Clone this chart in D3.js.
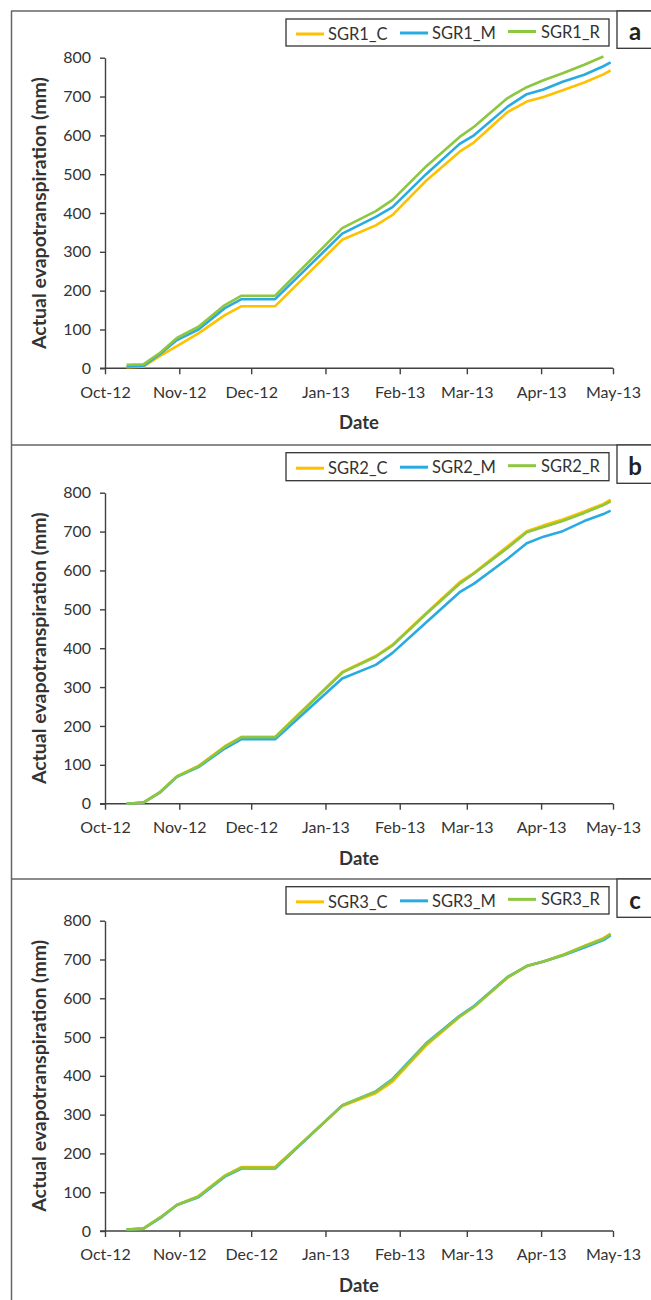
<!DOCTYPE html>
<html>
<head>
<meta charset="utf-8">
<script src="https://cdn.jsdelivr.net/npm/d3@7"></script>
<style>
  html, body { margin: 0; padding: 0; background: #fff; }
  svg { display: block; }
  text { font-family: Lato, "Open Sans", sans-serif; }
</style>
</head>
<body>
<svg id="chart" width="651" height="1300"></svg>
<script>
// ---------- DATA ----------
const dates = ["2012-10-10","2012-10-17","2012-10-24","2012-10-31","2012-11-09","2012-11-20","2012-11-27",
  "2012-12-11","2013-01-08","2013-01-22","2013-01-29","2013-02-12","2013-02-26","2013-03-04",
  "2013-03-18","2013-03-26","2013-04-02","2013-04-10","2013-04-19","2013-04-27","2013-04-30"];

const sgr1C = [3,4,32,57,90,137,160,160,331,368,395,483,558,582,660,687,699,716,736,757,767];
const sgr1M = [5,6,37,73,100,155,178,178,347,390,415,500,578,600,674,706,718,738,756,778,788];
const sgr1R = [9,10,40,78,107,163,187,187,361,405,434,520,596,622,696,724,742,760,782,803,null];

const sgr2C = [0,3,30,70,97,148,172,172,339,380,409,490,570,594,662,701,716,731,752,771,782];
const sgr2M = [0,3,29,69,94,142,166,166,322,357,388,466,544,566,630,670,687,701,727,745,754];
const sgr2R = [0,3,30,70,96,146,171,171,337,378,407,488,566,592,658,698,712,727,748,768,778];

const sgr3C = [4,6,35,67,90,143,165,165,322,355,385,478,552,578,653,683,695,712,735,755,767];
const sgr3M = [4,6,33,67,87,140,161,161,324,360,392,484,555,580,655,683,695,710,731,750,762];
const sgr3R = [4,6,35,67,89,142,163,163,324,359,390,482,553,578,654,683,695,711,734,753,765];

const panelLetters = ["a","b","c"];
const seriesNames = [["SGR1_C","SGR1_M","SGR1_R"],["SGR2_C","SGR2_M","SGR2_R"],["SGR3_C","SGR3_M","SGR3_R"]];
const panelSeries = [[sgr1C,sgr1M,sgr1R],[sgr2C,sgr2M,sgr2R],[sgr3C,sgr3M,sgr3R]];
const yTicks = [0,100,200,300,400,500,600,700,800];
const xTickDates = ["2012-10-01","2012-11-01","2012-12-01","2013-01-01","2013-02-01","2013-03-01","2013-04-01","2013-05-01"];
const xTickLabels = ["Oct-12","Nov-12","Dec-12","Jan-13","Feb-13","Mar-13","Apr-13","May-13"];
const yTitle = "Actual evapotranspiration (mm)";
const xTitle = "Date";

// ---------- LAYOUT ----------
const colors = ["#FFC000", "#29ABE2", "#8DC63F"];
const panels = [
  { top: 11,  y0: 368.3,  y800: 57.7,  legTop: 19,    legBot: 46,    boxBot: 48.3 },
  { top: 445, y0: 803.7,  y800: 492.7, legTop: 452.7, legBot: 480.7, boxBot: 483.3 },
  { top: 879, y0: 1231,   y800: 920.7, legTop: 886.7, legBot: 914,   boxBot: 917.3 }
];
const parse = d3.utcParse("%Y-%m-%d");
const dateObjs = dates.map(parse);
const svg = d3.select("#chart");

const x = d3.scaleUtc().domain([parse("2012-10-01"), parse("2013-05-01")]).range([105, 613]);

// frame
const frame = svg.append("g").attr("stroke", "#666").attr("stroke-width", 1.5).attr("fill", "none");
frame.append("line").attr("x1", 11.5).attr("x2", 11.5).attr("y1", 11).attr("y2", 1300);
panels.forEach(p => {
  frame.append("line").attr("x1", 11).attr("x2", 651).attr("y1", p.top).attr("y2", p.top);
});

panels.forEach((p, pi) => {
  const g = svg.append("g");
  const y = d3.scaleLinear().domain([0, 800]).range([p.y0, p.y800]);

  // y axis
  const yAxis = d3.axisLeft(y).tickValues(yTicks).tickSize(5).tickSizeOuter(0).tickPadding(9);
  const ya = g.append("g").attr("transform", `translate(${x.range()[0]},0)`).call(yAxis);
  ya.selectAll("path, line").attr("stroke", "#404040").attr("stroke-width", 1.4);
  ya.selectAll("text").attr("font-size", 16).attr("fill", "#333").attr("font-family", "Lato, sans-serif");

  // x axis
  const xAxis = d3.axisBottom(x).tickValues(xTickDates.map(parse))
    .tickFormat((d, i) => xTickLabels[i]).tickSize(6).tickSizeOuter(0).tickPadding(12);
  const xa = g.append("g").attr("transform", `translate(0,${p.y0})`).call(xAxis);
  xa.selectAll("path, line").attr("stroke", "#404040").attr("stroke-width", 1.4);
  xa.selectAll("text").attr("font-size", 16).attr("fill", "#333").attr("font-family", "Lato, sans-serif");
  xa.select("path.domain").attr("d", `M${x.range()[0] - 5},0H${x.range()[1]}`);

  // lines
  const line = d3.line()
    .defined(d => d[1] != null)
    .x(d => x(d[0])).y(d => y(d[1]));
  panelSeries[pi].forEach((vals, si) => {
    g.append("path")
      .datum(dateObjs.map((d, i) => [d, vals[i]]))
      .attr("fill", "none")
      .attr("stroke", colors[si])
      .attr("stroke-width", 2.6)
      .attr("stroke-linejoin", "round")
      .attr("d", line);
  });

  // axis titles
  g.append("text")
    .attr("transform", `translate(38,${(p.y0 + p.y800) / 2}) rotate(-90)`)
    .attr("text-anchor", "middle").attr("dominant-baseline", "central")
    .attr("font-size", 19.5).attr("font-weight", "bold").attr("fill", "#333")
    .text(yTitle);
  g.append("text")
    .attr("x", 359).attr("y", p.y0 + 54).attr("dominant-baseline", "central")
    .attr("text-anchor", "middle").attr("font-size", 18.5).attr("font-weight", "bold").attr("fill", "#333")
    .text(xTitle);

  // legend
  g.append("rect").attr("x", 286).attr("y", p.legTop).attr("width", 323).attr("height", p.legBot - p.legTop)
    .attr("fill", "#fff").attr("stroke", "#333").attr("stroke-width", 1.3);
  const legX = [[296, 328], [400, 432], [508, 541]];
  const legMid = (p.legTop + p.legBot) / 2;
  const legDy = [1.5, 0.5, -1];
  seriesNames[pi].forEach((name, si) => {
    g.append("line").attr("x1", legX[si][0]).attr("x2", legX[si][0] + 28)
      .attr("y1", legMid + legDy[si]).attr("y2", legMid + legDy[si])
      .attr("stroke", colors[si]).attr("stroke-width", 3);
    g.append("text").attr("x", legX[si][1]).attr("y", legMid + legDy[si])
      .attr("dominant-baseline", "central").attr("font-size", 16.5).attr("fill", "#333")
      .text(name);
  });

  // panel letter box
  g.append("rect").attr("x", 617).attr("y", p.top).attr("width", 50).attr("height", p.boxBot - p.top)
    .attr("fill", "#fff").attr("stroke", "#333").attr("stroke-width", 1.3);
  g.append("text").attr("x", 635).attr("y", (p.top + p.boxBot) / 2 + 1)
    .attr("text-anchor", "middle").attr("dominant-baseline", "central")
    .attr("font-size", 24).attr("font-weight", "bold").attr("fill", "#222")
    .text(panelLetters[pi]);
});
</script>
</body>
</html>
